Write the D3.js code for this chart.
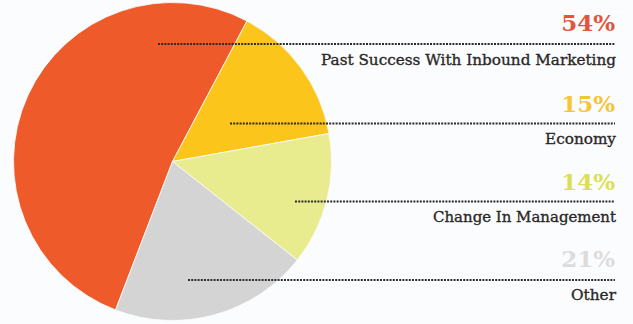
<!DOCTYPE html>
<html>
<head>
<meta charset="utf-8">
<script src="https://cdn.jsdelivr.net/npm/d3@7/dist/d3.min.js"></script>
<style>
  html, body { margin: 0; padding: 0; background: #fbfcfd; }
  svg { display: block; }
</style>
</head>
<body>
<div id="chart"></div>
<script>
// Reasons cited, with their share in percent
const categories = ["Past Success With Inbound Marketing", "Economy", "Change In Management", "Other"];
const values = [54, 15, 14, 21];
const valueLabels = ["54%", "15%", "14%", "21%"];
const sliceColors = ["#ef5a2a", "#fcc51c", "#e8eb8e", "#d4d4d4"];
const valueColors = ["#e2553a", "#f6c535", "#dcdf55", "#dcdcdc"];

const width = 633, height = 324;
const cx = 172.5, cy = 161.5, radius = 159;

const svg = d3.select("#chart").append("svg")
  .attr("width", width).attr("height", height);

const deg = Math.PI / 180;
const start = -159 * deg;
const pie = d3.pie().sort(null).value(d => d)
  .startAngle(start).endAngle(start + 2 * Math.PI);
const arcs = pie(values);
const arc = d3.arc().innerRadius(0).outerRadius(radius);

svg.append("g").attr("transform", `translate(${cx},${cy})`)
  .selectAll("path").data(arcs).join("path")
  .attr("d", arc)
  .attr("fill", (d, i) => sliceColors[i])
  .attr("stroke", "#fbfcfd").attr("stroke-width", 0.8);

// Label rows on the right: value, dotted leader, category name
const rightX = 615;
const rows = [
  { valueY: 31, lineY: 44, lineX: 158, nameY: 65 },
  { valueY: 112, lineY: 123.5, lineX: 230, nameY: 144 },
  { valueY: 190, lineY: 201.5, lineX: 295, nameY: 222 },
  { valueY: 267, lineY: 280, lineX: 188, nameY: 300 }
];
const nameWidths = [295, 71, 183, 45];

const g = svg.append("g");
rows.forEach((r, i) => {
  g.append("line")
    .attr("x1", r.lineX).attr("x2", rightX)
    .attr("y1", r.lineY).attr("y2", r.lineY)
    .attr("stroke", "#2e2b2b").attr("stroke-width", 2)
    .attr("stroke-dasharray", "2,1.2");

  g.append("text")
    .attr("x", rightX).attr("y", r.valueY)
    .attr("text-anchor", "end")
    .attr("font-family", "DejaVu Serif")
    .attr("font-weight", "bold")
    .attr("font-size", 23)
    .attr("fill", valueColors[i])
    .text(valueLabels[i]);

  g.append("text")
    .attr("x", rightX + 1).attr("y", r.nameY)
    .attr("text-anchor", "end")
    .attr("font-family", "DejaVu Serif")
    .attr("font-size", 15.5)
    .attr("fill", "#2b2828")
    .attr("stroke", "#2b2828").attr("stroke-width", 0.35)
    .attr("textLength", nameWidths[i])
    .attr("lengthAdjust", "spacingAndGlyphs")
    .text(categories[i]);
});
</script>
</body>
</html>
